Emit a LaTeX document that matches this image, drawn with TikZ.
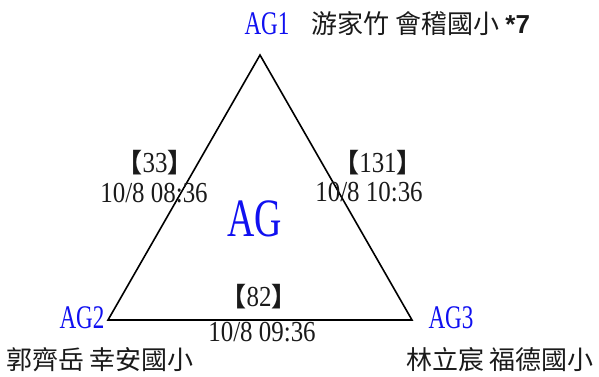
\documentclass[tikz,border=0pt]{standalone}
\usepackage{fontspec}
\usepackage{tikz}
\usetikzlibrary{positioning}
\newfontfamily\narrowfont{Liberation Serif}[FakeStretch=0.7]
\newfontfamily\digitfont{Liberation Serif}[FakeStretch=0.86]
\newfontfamily\cjkfont{Noto Sans CJK TC}
\newfontfamily\sansfont{Liberation Sans}
\definecolor{agblue}{HTML}{1010F0}
\definecolor{inkc}{HTML}{1A1A1A}
\newcommand{\lbrk}{{\cjkfont\bfseries\fontsize{26}{28}\selectfont 【}}
\newcommand{\rbrk}{{\cjkfont\bfseries\fontsize{26}{28}\selectfont 】}}

\begin{document}
\begin{tikzpicture}[x=1pt, y=-1pt, line width=1.6pt,
          vname/.style={text=agblue, inner sep=0pt, font=\narrowfont\fontsize{33}{34}\selectfont},
          school/.style={text=inkc, inner sep=0pt, font=\cjkfont\fontsize{26}{28}\selectfont},
          count/.style={text=inkc, inner sep=0pt, font=\digitfont\fontsize{29}{30}\selectfont},
          stamp/.style={text=inkc, inner sep=0pt, font=\digitfont\fontsize{29}{30}\selectfont}]
        \useasboundingbox (0,0) rectangle (599,376);
        % triangle corners
        \coordinate (v1) at (260,55);
        \coordinate (v2) at (108,320);
        \coordinate (v3) at (412,320);
        \draw[black, line join=miter] (v1) -- (v2) -- (v3) -- cycle;
        % corner labels
        \node[vname] (ag1) at (267,24) {AG1};
        \node[school, anchor=west] (s1) at (311,24)
              {游家竹 會稽國小 {\sansfont\bfseries\fontsize{26}{28}\selectfont *7}};
        \node[vname] (ag2) at (82,318) {AG2};
        \node[school] (s2) at (100,360) {郭齊岳 幸安國小};
        \node[vname] (ag3) at (451,318) {AG3};
        \node[school] (s3) at (500,360) {林立宸 福德國小};
        % center
        \node[text=agblue, inner sep=0pt,
              font=\narrowfont\fontsize{54}{56}\selectfont] (ag) at (255,219) {AG};
        % edge labels
        \node[count] (c12) at (155,163) {\lbrk 33\rbrk};
        \node[stamp] (t12) at (154,193) {10/8 08:36};
        \node[count] (c13) at (378,163) {\lbrk 131\rbrk};
        \node[stamp] (t13) at (369,192) {10/8 10:36};
        \node[count] (c23) at (259,297) {\lbrk 82\rbrk};
        \node[stamp] (t23) at (262,332) {10/8 09:36};
      \end{tikzpicture}
\end{document}
